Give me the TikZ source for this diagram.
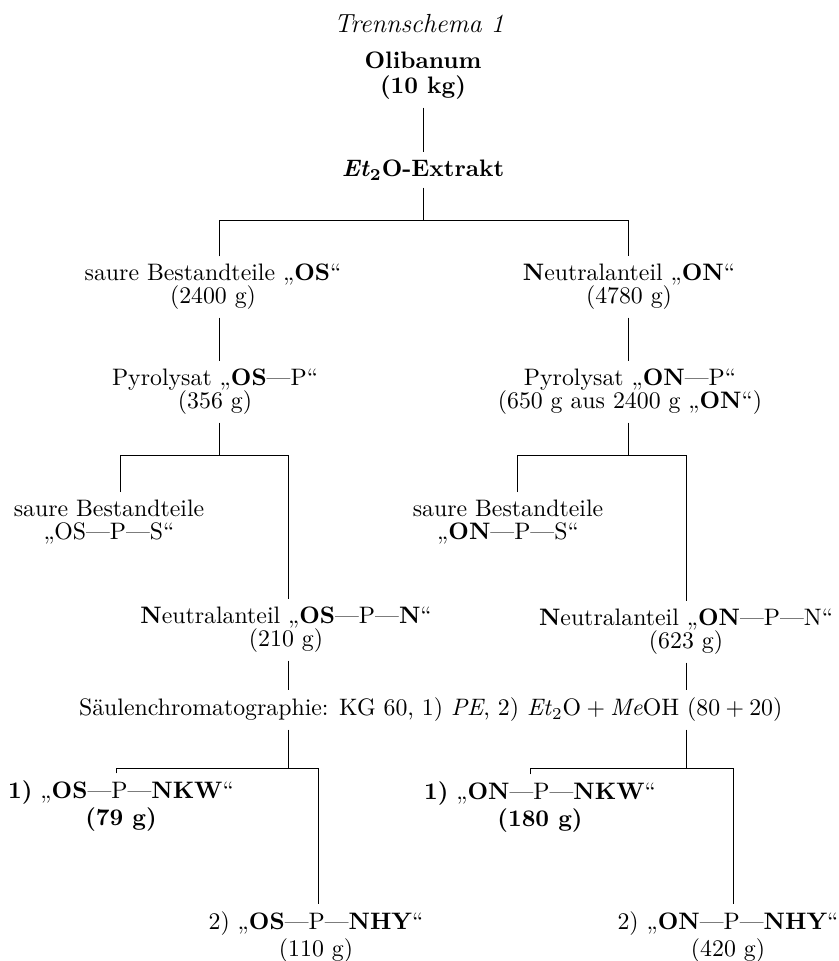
\documentclass[tikz,border=0pt]{standalone}
\usetikzlibrary{calc}
\newcommand\gq[1]{„#1“}
\begin{document}
\begin{tikzpicture}[x=0.42pt,y=-0.42pt,
  lbl/.style={align=center,inner sep=3pt,font=\fontsize{10}{9.8}\selectfont},
  ln/.style={line width=0.35pt,black}]
\useasboundingbox (0,0) rectangle (839,961);
% nodes
\node[lbl,font=\fontsize{11}{12}\selectfont] (title) at (419,24) {\itshape Trennschema 1};
\node[lbl,font=\bfseries\fontsize{10}{10.6}\selectfont] (olib) at (423,76) {Olibanum\\(10 kg)};
\node[lbl] (ext) at (423,170) {\textbf{\textit{Et}\textsubscript{2}O-Extrakt}};
\node[lbl] (osA) at (213,287) {saure Bestandteile \gq{\textbf{OS}}\\(2400 g)};
\node[lbl] (onA) at (629,287) {\textbf{N}eutralanteil \gq{\textbf{ON}}\\(4780 g)};
\node[lbl] (osP) at (215,392) {Pyrolysat \gq{\textbf{OS}—P}\\(356 g)};
\node[lbl] (onP) at (630,392) {Pyrolysat \gq{\textbf{ON}—P}\\(650 g aus 2400 g \gq{\textbf{ON}})};
\node[lbl] (osPS) at (109,522) {saure Bestandteile\\\gq{OS—P—S}};
\node[lbl] (onPS) at (508,522) {saure Bestandteile\\\gq{\textbf{ON}—P—S}};
\node[lbl] (osPN) at (286,630) {\textbf{N}eutralanteil \gq{\textbf{OS}—P—\textbf{N}}\\(210 g)};
\node[lbl] (onPN) at (686,632) {\textbf{N}eutralanteil \gq{\textbf{ON}—P—N}\\(623 g)};
\node[lbl,anchor=east] (sc) at (790,710) {Säulenchromatographie: KG 60, 1) \textit{PE}, 2) \textit{Et}\textsubscript{2}O${}+{}$\textit{Me}OH (80${}+{}$20)};
\node[lbl] (nkwOS) at (121,806) {\textbf{1)} \gq{\textbf{OS}—P—\textbf{NKW}}\\\textbf{(79 g)}};
\node[lbl] (nhyOS) at (316,937) {2) \gq{\textbf{OS}—P—\textbf{NHY}}\\(110 g)};
\node[lbl] (nkwON) at (540,807) {\textbf{1)} \gq{\textbf{ON}—P—\textbf{NKW}}\\\textbf{(180 g)}};
\node[lbl] (nhyON) at (728,937) {2) \gq{\textbf{ON}—P—\textbf{NHY}}\\(420 g)};
% junctions
\coordinate (b1) at (423,220); \coordinate (b1l) at (219,220); \coordinate (b1r) at (628,220);
\coordinate (b2) at (219,455); \coordinate (b2l) at (120,455); \coordinate (b2r) at (288,455);
\coordinate (b3) at (628,455); \coordinate (b3l) at (517,455); \coordinate (b3r) at (686,455);
\coordinate (b4) at (288,768); \coordinate (b4l) at (116,768); \coordinate (b4r) at (318,768);
\coordinate (b5) at (686,768); \coordinate (b5l) at (530,768); \coordinate (b5r) at (733,768);
% connectors
\draw[ln] (olib) -- (ext);
\draw[ln] (ext) -- (b1);
\draw[ln] (b1l |- osA.north) -- (b1l) -- (b1r) -- (b1r |- onA.north);
\draw[ln] (b1l |- osA.south) -- (b1l |- osP.north);
\draw[ln] (b1r |- onA.south) -- (b1r |- onP.north);
\draw[ln] (b1l |- osP.south) -- (b2);
\draw[ln] (b2l |- osPS.north) -- (b2l) -- (b2r) -- (b2r |- osPN.north);
\draw[ln] (b1r |- onP.south) -- (b3);
\draw[ln] (b3l |- onPS.north) -- (b3l) -- (b3r) -- (b3r |- onPN.north);
\draw[ln] (b2r |- osPN.south) -- (b2r |- sc.north);
\draw[ln] (b3r |- onPN.south) -- (b3r |- sc.north);
\draw[ln] (b4 |- sc.south) -- (b4);
\draw[ln] (b4l |- nkwOS.north) -- (b4l) -- (b4r) -- (b4r |- nhyOS.north);
\draw[ln] (b5 |- sc.south) -- (b5);
\draw[ln] (b5l |- nkwON.north) -- (b5l) -- (b5r) -- (b5r |- nhyON.north);
\end{tikzpicture}
\end{document}
